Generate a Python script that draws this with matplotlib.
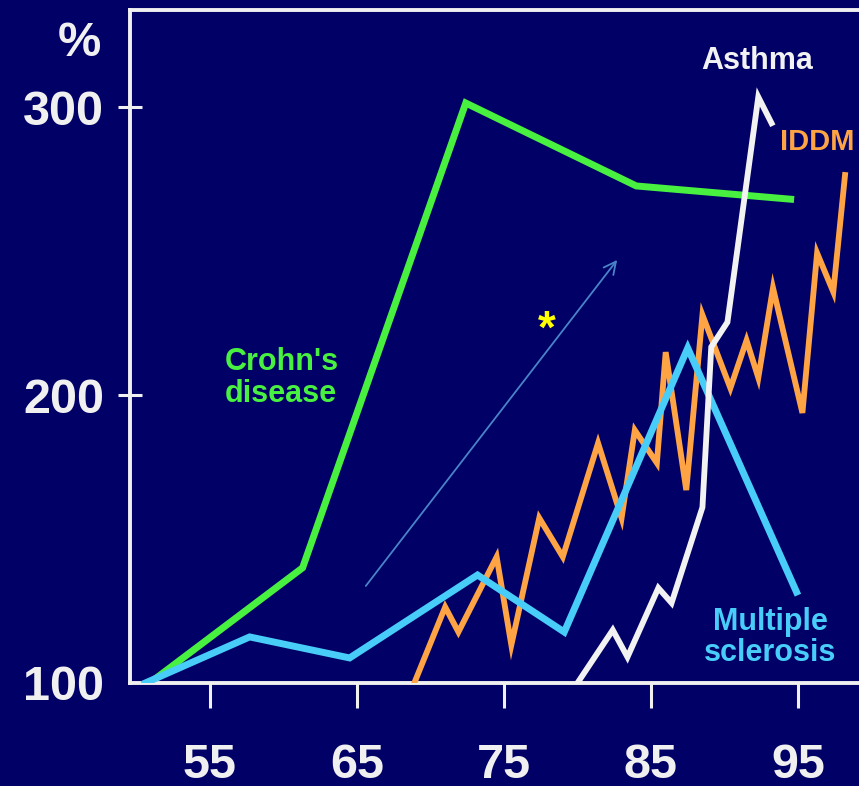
import matplotlib
matplotlib.use("Agg")
from matplotlib import pyplot as plt

# values (year, % of baseline)
crohn_years = [50.9, 61.3, 72.4, 84.0, 94.5]
crohn_pct = [100, 140, 301.4, 272.6, 268]

ms_years = [50.6, 57.7, 64.5, 73.2, 79.1, 87.5, 94.9]
ms_pct = [100, 116, 108.7, 137.5, 117.7, 216.3, 131.6]

iddm_years = [68.9, 71.0, 71.9, 74.5, 75.5, 77.4, 79.0, 81.4, 83.0, 83.9, 85.4,
              86.0, 87.4, 88.5, 90.4, 91.5, 92.3, 93.3, 95.3, 96.3, 97.4, 98.2]
iddm_pct = [100, 126.4, 117.7, 143.8, 113.2, 157.3, 143.8, 183.3, 157.3, 187.8, 176.4,
            214.9, 167, 227.8, 202.4, 219, 206, 237.2, 193.8, 249.3, 235.8, 276.4]

asthma_years = [80.0, 82.4, 83.4, 85.5, 86.4, 88.5, 89.1, 90.2, 92.3, 93.2]
asthma_pct = [100, 118.4, 109, 133, 127.8, 161, 216.7, 225.3, 303.5, 294.4]

arrow_start = (65.6, 133.7)
arrow_end = (82.7, 246.9)

x_ticks = [55, 65, 75, 85, 95]
y_ticks = [100, 200, 300]

BG = "#000066"
FG = "#F0F0F0"
GREEN = "#48F040"
CYAN = "#48CCF8"
ORANGE = "#FFA444"
WHITE = "#F2F2F2"

plt.rcParams["font.family"] = ["Liberation Sans", "DejaVu Sans"]
plt.rcParams["font.weight"] = "bold"

fig = plt.figure(figsize=(8.59, 7.86), dpi=100, facecolor=BG)
ax = fig.add_axes([130 / 859, 103 / 786, 729 / 859, 673 / 786], facecolor=BG)

ax.plot(crohn_years, crohn_pct, color=GREEN, lw=5, solid_joinstyle="miter", zorder=2)
ax.plot(iddm_years, iddm_pct, color=ORANGE, lw=4.2, solid_joinstyle="miter", zorder=3)
ax.plot(ms_years, ms_pct, color=CYAN, lw=5, solid_joinstyle="miter", zorder=4)
ax.plot(asthma_years, asthma_pct, color=WHITE, lw=4.2, solid_joinstyle="miter", zorder=5)

ax.annotate("", xy=arrow_end, xytext=arrow_start,
            arrowprops=dict(arrowstyle="->", color="#4A84C8", lw=1.3,
                            mutation_scale=22, shrinkA=0, shrinkB=0))
ax.text(77.9, 218, "*", color="#FFFF00", fontsize=33, ha="center", va="baseline")

ax.text(56.0, 206, "Crohn's\ndisease", color=GREEN, fontsize=22, ha="left",
        va="center", linespacing=1.1)
ax.text(93.1, 126.5, "Multiple\nsclerosis", color=CYAN, fontsize=22, ha="center",
        va="top", linespacing=1.05)
ax.text(92.2, 316, "Asthma", color=WHITE, fontsize=22, ha="center", va="center")
ax.text(93.8, 288, "IDDM", color=ORANGE, fontsize=21, ha="left", va="center")

ax.set_xlim(49.56, 99.15)
ax.set_ylim(100, 333.7)
ax.set_xticks(x_ticks)
ax.set_yticks(y_ticks)
ax.tick_params(axis="x", direction="out", length=18, width=2.2, colors=FG,
               labelsize=35, pad=25)
ax.tick_params(axis="y", direction="inout", length=17, width=2.2, colors=FG,
               labelsize=35, pad=10)
ax.yaxis.get_major_ticks()[0].tick1line.set_visible(False)

for side in ["left", "bottom", "top"]:
    ax.spines[side].set_color(FG)
    ax.spines[side].set_linewidth(2.8)
ax.spines["right"].set_visible(False)

fig.text(79 / 859, 1 - 43 / 786, "%", color=FG, fontsize=35, ha="center", va="center")

fig.savefig("out.png", dpi=100, facecolor=BG)
